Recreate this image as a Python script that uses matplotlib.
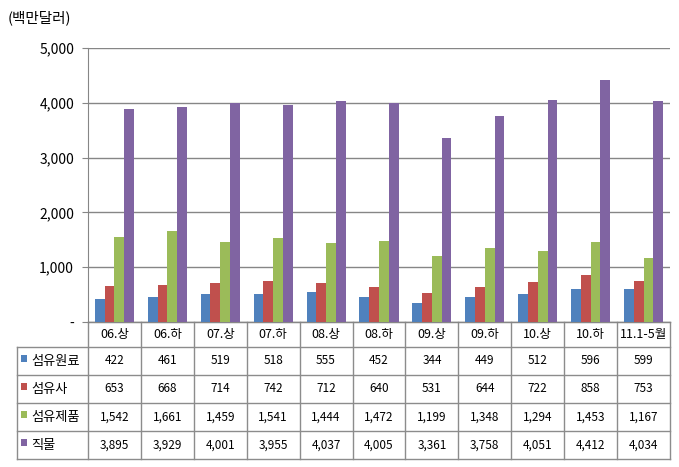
import matplotlib
matplotlib.use("Agg")
import matplotlib.pyplot as plt
import matplotlib.transforms as mtransforms
from matplotlib.patches import Rectangle
import numpy as np

plt.rcParams['font.family'] = ['Noto Sans CJK KR', 'DejaVu Sans']

categories = ['06.상', '06.하', '07.상', '07.하', '08.상', '08.하',
              '09.상', '09.하', '10.상', '10.하', '11.1-5월']
series_names = ['섬유원료', '섬유사', '섬유제품', '직물']
fiber_raw = [422, 461, 519, 518, 555, 452, 344, 449, 512, 596, 599]
fiber_yarn = [653, 668, 714, 742, 712, 640, 531, 644, 722, 858, 753]
fiber_products = [1542, 1661, 1459, 1541, 1444, 1472, 1199, 1348, 1294, 1453, 1167]
fabric = [3895, 3929, 4001, 3955, 4037, 4005, 3361, 3758, 4051, 4412, 4034]
series = [fiber_raw, fiber_yarn, fiber_products, fabric]
colors = ['#4F81BD', '#C0504D', '#9BBB59', '#8064A2']
yticks = [0, 1000, 2000, 3000, 4000, 5000]
ytick_labels = ['-', '1,000', '2,000', '3,000', '4,000', '5,000']
unit_label = '(백만달러)'

W, H = 679, 467
fig = plt.figure(figsize=(W / 100, H / 100), dpi=100)
L, R, T, B = 88, 670, 48, 322
ax = fig.add_axes([L / W, 1 - B / H, (R - L) / W, (B - T) / H])

n = len(categories)
x = np.arange(n)
bw = 0.185
for k, (vals, c) in enumerate(zip(series, colors)):
    ax.bar(x + (k - 1.5) * bw, vals, bw, color=c, linewidth=0, zorder=3)

grid_c = '#868686'
ax.set_xlim(-0.5, n - 0.5)
ax.set_ylim(0, 5000)
ax.set_yticks(yticks)
ax.set_yticklabels(ytick_labels)
ax.grid(axis='y', color=grid_c, linewidth=1)
ax.set_axisbelow(True)
for s in ['top', 'right']:
    ax.spines[s].set_visible(False)
ax.spines['left'].set_color(grid_c)
ax.spines['bottom'].set_color(grid_c)
ax.tick_params(axis='y', length=4, color=grid_c, labelsize=10, pad=6)
ax.tick_params(axis='x', bottom=False, labelbottom=False)

fig.text(8 / W, 1 - 18 / H, unit_label, fontsize=10.5, va='center', ha='left')

# data table
trans = mtransforms.blended_transform_factory(ax.transData, ax.transAxes)
def fy(py):
    return (B - py) / (B - T)

row_edges = [322, 347, 375, 403, 431, 459]
px_per_cat = (R - L) / n
label_left = -0.5 - (L - 17) / px_per_cat
line_kw = dict(color='#8C8C8C', linewidth=1, transform=trans, clip_on=False)

# horizontal lines
for i, py in enumerate(row_edges):
    x0 = -0.5 if i == 0 else label_left
    ax.plot([x0, n - 0.5], [fy(py), fy(py)], **line_kw)
# vertical lines
for i in range(n + 1):
    ax.plot([i - 0.5, i - 0.5], [fy(row_edges[0]), fy(row_edges[-1])], **line_kw)
ax.plot([label_left, label_left], [fy(row_edges[1]), fy(row_edges[-1])], **line_kw)

fs = 8.5
hy = fy((row_edges[0] + row_edges[1]) / 2)
for i, cat in enumerate(categories):
    ax.text(i, hy, cat, transform=trans, ha='center', va='center', fontsize=fs + 0.5, clip_on=False)

for r, (name, vals, c) in enumerate(zip(series_names, series, colors)):
    cy_px = (row_edges[r + 1] + row_edges[r + 2]) / 2
    cy = fy(cy_px)
    for i, v in enumerate(vals):
        ax.text(i, cy, f'{v:,}', transform=trans, ha='center', va='center', fontsize=fs, clip_on=False)
    fig.add_artist(Rectangle((21 / W, 1 - (cy_px + 1) / H), 6 / W, 7 / H,
                             transform=fig.transFigure, color=c, linewidth=0))
    fig.text(31 / W, 1 - (cy_px + 1) / H, name, fontsize=fs + 1, va='center', ha='left')

fig.savefig('out.png', dpi=100)
